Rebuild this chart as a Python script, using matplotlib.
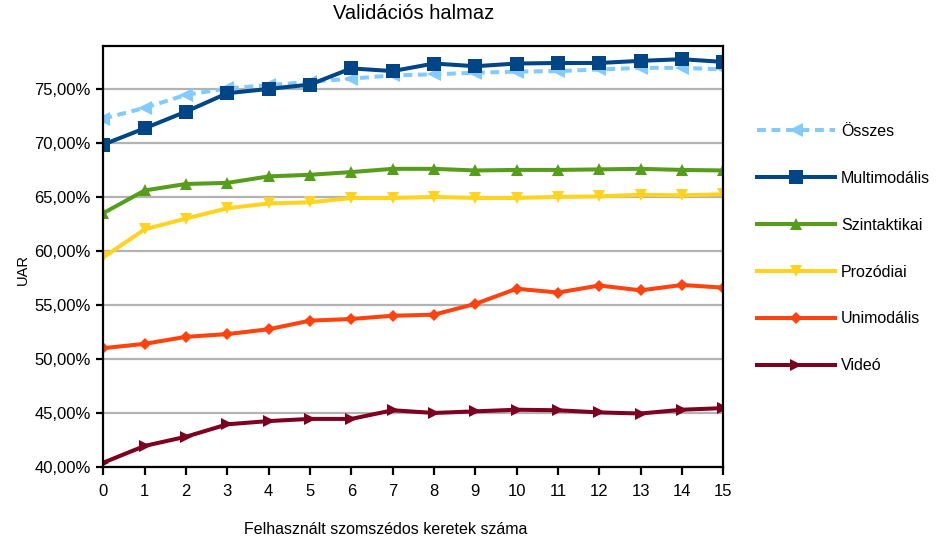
import matplotlib
matplotlib.use("Agg")
import matplotlib.pyplot as plt
from matplotlib.ticker import FuncFormatter, MultipleLocator

plt.rcParams['font.family'] = ['Liberation Sans', 'DejaVu Sans']

# Number of neighbouring frames used
frames = list(range(16))

osszes = [72.25, 73.25, 74.45, 75.05, 75.35, 75.65, 75.95, 76.25,
          76.35, 76.5, 76.6, 76.65, 76.8, 76.95, 76.95, 76.8]
multimodalis = [69.85, 71.35, 72.9, 74.6, 75.0, 75.4, 76.9, 76.65,
                77.35, 77.1, 77.35, 77.4, 77.4, 77.6, 77.75, 77.5]
szintaktikai = [63.5, 65.6, 66.2, 66.3, 66.9, 67.05, 67.3, 67.6,
                67.6, 67.45, 67.5, 67.5, 67.55, 67.6, 67.5, 67.45]
prozodiai = [59.4, 62.0, 63.0, 63.95, 64.4, 64.5, 64.9, 64.9,
             65.0, 64.9, 64.9, 65.0, 65.05, 65.2, 65.15, 65.25]
unimodalis = [51.0, 51.4, 52.05, 52.3, 52.75, 53.55, 53.7, 54.0,
              54.1, 55.1, 56.5, 56.15, 56.8, 56.35, 56.85, 56.6]
video = [40.4, 41.95, 42.8, 43.95, 44.25, 44.45, 44.45, 45.25,
         45.0, 45.15, 45.3, 45.25, 45.05, 44.95, 45.3, 45.45]

series = [
    ("Összes", osszes, "#83CAFF", "<", (0, (2.2, 1.4)), 10),
    ("Multimodális", multimodalis, "#004586", "s", "-", 10),
    ("Szintaktikai", szintaktikai, "#579D1C", "^", "-", 9),
    ("Prozódiai", prozodiai, "#FFD320", "v", "-", 9),
    ("Unimodális", unimodalis, "#FF420E", "D", "-", 6.5),
    ("Videó", video, "#7E0021", ">", "-", 9),
]

fig = plt.figure(figsize=(9.36, 5.37), dpi=100)
ax = fig.add_axes([0.1104, 0.1304, 0.6624, 0.7845])

for label, vals, color, marker, ls, ms in series:
    ax.plot(frames, vals, color=color, lw=2.9, linestyle=ls, marker=marker,
            markersize=ms, markeredgewidth=0, label=label, zorder=3)

ax.set_xlim(0, 15)
ax.set_ylim(40, 79.0)
ax.xaxis.set_major_locator(MultipleLocator(1))
ax.yaxis.set_major_locator(MultipleLocator(5))
ax.yaxis.set_major_formatter(
    FuncFormatter(lambda v, _: f"{v:.2f}".replace(".", ",") + "%"))
ax.grid(axis="y", color="#b3b3b3", lw=1.6, zorder=1)
ax.set_axisbelow(True)
for sp in ax.spines.values():
    sp.set_linewidth(1.6)
    sp.set_zorder(4)
ax.tick_params(axis="both", width=1.6, labelsize=12)
ax.tick_params(axis="x", length=5.5, pad=7)
ax.tick_params(axis="y", length=5, pad=4)

ax.set_title("Validációs halmaz", fontsize=14.5, pad=19)
ax.set_xlabel("Felhasznált szomszédos keretek száma", fontsize=11.5)
ax.set_ylabel("UAR", fontsize=10.5)
ax.xaxis.set_label_coords(0.455, -0.131)
ax.yaxis.set_label_coords(-0.118, 0.468)

leg = ax.legend(loc="upper left", bbox_to_anchor=(1.044, 0.83), frameon=False,
                fontsize=11.5, handlelength=4.9, handletextpad=0.35,
                labelspacing=2.0, borderaxespad=0)

fig.savefig("out.png", dpi=100)
